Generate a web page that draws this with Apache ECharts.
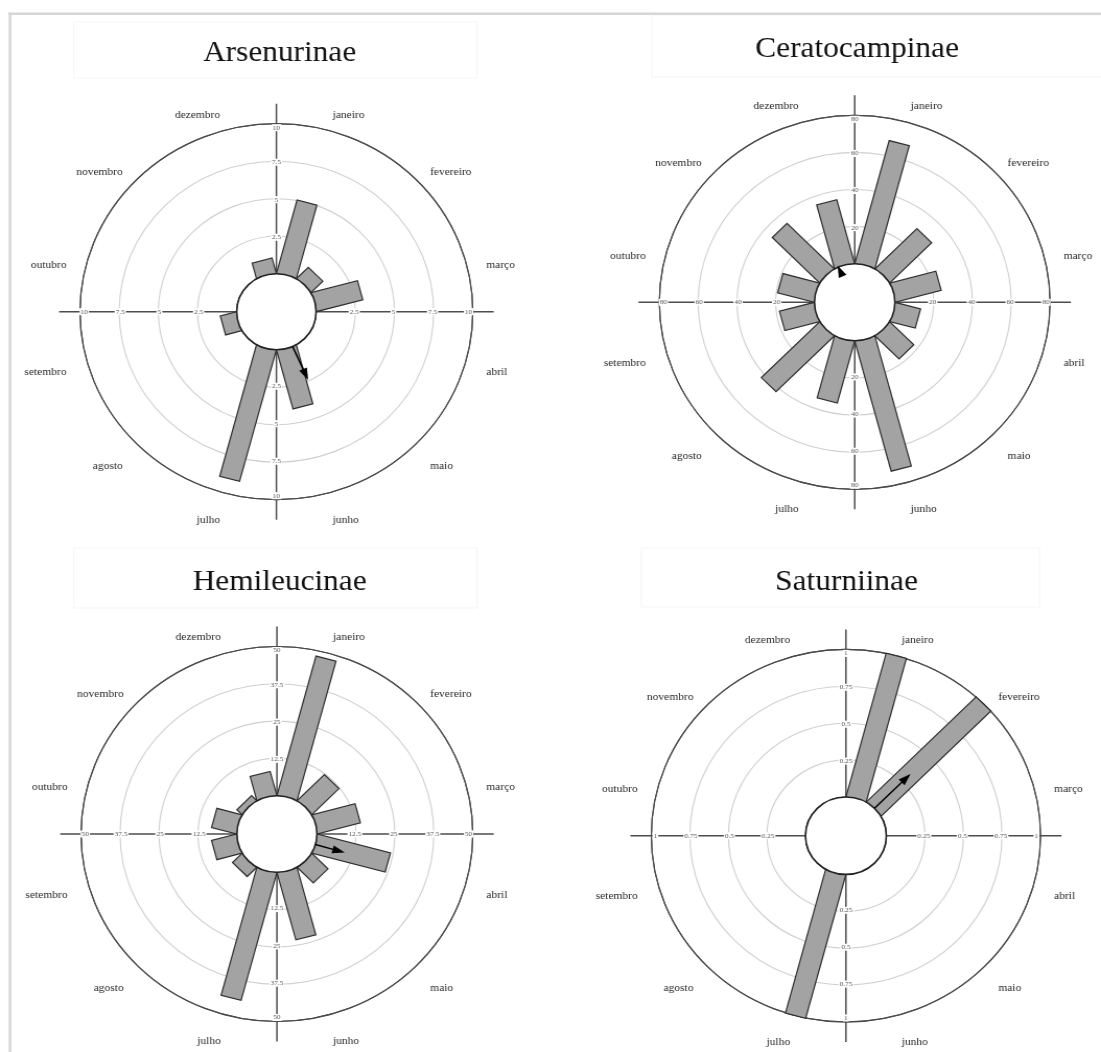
<!DOCTYPE html>
<html>
<head>
<meta charset="utf-8">
<title>Diagramas circulares - Saturniidae</title>
<script src="https://cdn.jsdelivr.net/npm/echarts@6/dist/echarts.min.js"></script>
<style>
    html, body { margin: 0; padding: 0; background: #fff; overflow: hidden; }
    #wrap { width: 1101px; height: 1052px; overflow: hidden; }
    /* a figura original esta esticada na horizontal */
    #main { width: 1054px; height: 1052px; transform: scaleX(1.0446); transform-origin: 0 0; }
</style>
</head>
<body>
<div id="wrap"><div id="main"></div></div>
<script>
// meses (eixo angular, sentido horario a partir do norte)
var months = ['janeiro', 'fevereiro', 'março', 'abril', 'maio', 'junho',
              'julho', 'agosto', 'setembro', 'outubro', 'novembro', 'dezembro'];

var titles = ['Arsenurinae', 'Ceratocampinae', 'Hemileucinae', 'Saturniinae'];

// frequencias mensais
var arsenurinae    = [5, 1, 3, 0, 0, 4, 9, 0, 1, 0, 0, 1];
var ceratocampinae = [68, 30, 24, 13, 17, 72, 34, 42, 18, 19, 34, 35];
var hemileucinae   = [48, 12, 14, 24, 7, 23, 44, 4, 8, 8, 2, 8];
var saturniinae    = [1, 1, 0, 0, 0, 0, 1, 0, 0, 0, 0, 0];

// marcas do eixo radial
var ticksArsenurinae    = [2.5, 5, 7.5, 10];
var ticksCeratocampinae = [20, 40, 60, 80];
var ticksHemileucinae   = [12.5, 25, 37.5, 50];
var ticksSaturniinae    = [0.25, 0.5, 0.75, 1];

// vetor medio (angulo em graus, comprimento em unidades do eixo)
var meanAngle  = [156, 336, 106, 45];
var meanLength = [2.45, 1, 9.8, 0.33];

var seriesData = [arsenurinae, ceratocampinae, hemileucinae, saturniinae];
var tickSets = [ticksArsenurinae, ticksCeratocampinae, ticksHemileucinae, ticksSaturniinae];

// layout de cada painel (px no grafico)
var panels = [
    { center: [264.6, 311.7], radius: [38, 188],   title: [262.7, 33] },
    { center: [818.2, 302.3], radius: [38.5, 187], title: [815.5, 29] },
    { center: [265.1, 834],   radius: [38.3, 187.5], title: [262.7, 562] },
    { center: [809.8, 835.7], radius: [38.7, 186.3], title: [805.4, 562] }
];

var SERIF = 'Liberation Serif, DejaVu Serif, serif';
var STEP = 360 / months.length;

var chart = echarts.init(document.getElementById('main'), null, { renderer: 'canvas' });

// barras retangulares a partir da borda do circulo central
function renderBar(params, api) {
    var v = api.value(0);
    if (!v) return null;
    var ang = api.value(1);
    var cs = params.coordSys;
    var p1 = api.coord([0, ang - STEP / 2]);
    var p2 = api.coord([0, ang + STEP / 2]);
    var tip = api.coord([v, ang]);
    var ux = tip[0] - cs.cx, uy = tip[1] - cs.cy;
    var len = Math.sqrt(ux * ux + uy * uy);
    ux /= len; uy /= len;
    var mx = (p1[0] + p2[0]) / 2, my = (p1[1] + p2[1]) / 2;
    var L = (tip[0] - mx) * ux + (tip[1] - my) * uy;
    return {
        type: 'polygon',
        shape: { points: [p1, p2, [p2[0] + ux * L, p2[1] + uy * L], [p1[0] + ux * L, p1[1] + uy * L]] },
        style: { fill: '#a3a3a3', stroke: '#2e2e2e', lineWidth: 1.2 }
    };
}

// eixos cruzados
function makeFrame(idx) {
    return function (params, api) {
        var cs = params.coordSys;
        var ext = cs.r + 20;
        var st = { stroke: '#4d4d4d', lineWidth: 1.5 };
        return {
            type: 'group',
            children: [
                { type: 'line', shape: { x1: cs.cx - ext, y1: cs.cy, x2: cs.cx + ext, y2: cs.cy }, style: st },
                { type: 'line', shape: { x1: cs.cx, y1: cs.cy - ext, x2: cs.cx, y2: cs.cy + ext }, style: st }
            ]
        };
    };
}

// circulo central, rotulos e vetor medio
function makeOverlay(idx) {
    return function (params, api) {
        var cs = params.coordSys;
        var ticks = tickSets[idx];
        var max = ticks[ticks.length - 1];
        var children = [];

        children.push({
            type: 'circle',
            shape: { cx: cs.cx, cy: cs.cy, r: cs.r0 },
            style: { fill: '#fff', stroke: '#222', lineWidth: 1.6 }
        });

        // rotulos do eixo radial nas 4 direcoes
        [0, 90, 180, 270].forEach(function (a) {
            ticks.forEach(function (t, k) {
                var p = api.coord([t, a]);
                var dx = p[0] - cs.cx, dy = p[1] - cs.cy;
                var d = Math.sqrt(dx * dx + dy * dy);
                var pull = k === ticks.length - 1 ? 4 : 1;
                children.push({
                    type: 'text',
                    style: {
                        text: String(t),
                        x: p[0] - dx / d * pull, y: p[1] - dy / d * pull,
                        align: 'center', verticalAlign: 'middle',
                        font: '7px ' + SERIF, fill: '#555',
                        backgroundColor: '#fff', padding: [0, 1]
                    }
                });
            });
        });

        // nomes dos meses
        months.forEach(function (m, k) {
            var a = STEP / 2 + STEP * k;
            var p = api.coord([max, a]);
            var dx = (p[0] - cs.cx) / cs.r, dy = (p[1] - cs.cy) / cs.r;
            var rr = cs.r + 20;
            children.push({
                type: 'text',
                style: {
                    text: m,
                    x: cs.cx + dx * rr, y: cs.cy + dy * rr + (dy < -0.9 ? 4 : 7),
                    align: a < 180 ? 'left' : 'right', verticalAlign: 'middle',
                    font: '11px ' + SERIF, fill: '#2a2a2a'
                }
            });
        });

        // vetor medio
        var s = api.coord([0, meanAngle[idx]]);
        var e = api.coord([meanLength[idx], meanAngle[idx]]);
        var ux = e[0] - cs.cx, uy = e[1] - cs.cy;
        var ul = Math.sqrt(ux * ux + uy * uy);
        ux /= ul; uy /= ul;
        var hl = 12, hw = 4;
        var bx = e[0] - ux * hl, by = e[1] - uy * hl;
        if ((e[0] - s[0]) * ux + (e[1] - s[1]) * uy > hl) {
            children.push({
                type: 'line',
                shape: { x1: s[0], y1: s[1], x2: bx + ux * 2, y2: by + uy * 2 },
                style: { stroke: '#000', lineWidth: 1.5 }
            });
        }
        children.push({
            type: 'polygon',
            shape: { points: [e, [bx - uy * hw, by + ux * hw], [bx + uy * hw, by - ux * hw]] },
            style: { fill: '#000' }
        });

        return { type: 'group', children: children };
    };
}

var polar = [], angleAxis = [], radiusAxis = [], series = [], title = [];

panels.forEach(function (p, i) {
    var ticks = tickSets[i];
    var max = ticks[ticks.length - 1];
    polar.push({ center: p.center, radius: p.radius });
    angleAxis.push({
        polarIndex: i, type: 'value', min: 0, max: 360, startAngle: 90, clockwise: true,
        axisLine: { show: true, lineStyle: { color: '#4a4a4a', width: 1.2 } },
        axisTick: { show: false }, axisLabel: { show: false }, splitLine: { show: false }
    });
    radiusAxis.push({
        polarIndex: i, type: 'value', min: 0, max: max, interval: ticks[0],
        axisLine: { show: false }, axisTick: { show: false }, axisLabel: { show: false },
        splitLine: { show: true, lineStyle: { color: ['#d0d0d0', '#d0d0d0', '#d0d0d0', '#d0d0d0', '#4a4a4a'], width: 1.1 } }
    });
    title.push({
        text: titles[i], left: p.title[0], top: p.title[1], textAlign: 'center',
        textStyle: { fontFamily: SERIF, fontSize: 30, fontWeight: 'normal', color: '#111' }
    });

    series.push({
        type: 'custom', coordinateSystem: 'polar', polarIndex: i, z: 1, silent: true,
        renderItem: makeFrame(i), data: [[0, 0]]
    });
    series.push({
        type: 'custom', name: titles[i], coordinateSystem: 'polar', polarIndex: i, z: 2,
        renderItem: renderBar,
        data: seriesData[i].map(function (v, k) { return [v, STEP / 2 + STEP * k]; })
    });
    series.push({
        type: 'custom', coordinateSystem: 'polar', polarIndex: i, z: 3, silent: true,
        renderItem: makeOverlay(i), data: [[0, 0]]
    });
});

// caixas dos titulos, quase invisiveis
var faint = { fill: 'none', stroke: '#f5f5f5', lineWidth: 1 };

chart.setOption({
    animation: false,
    backgroundColor: '#fff',
    title: title,
    polar: polar,
    angleAxis: angleAxis,
    radiusAxis: radiusAxis,
    series: series,
    graphic: [
        { type: 'rect', shape: { x: 70.6, y: 22, width: 386, height: 56 }, style: faint, z: -1 },
        { type: 'rect', shape: { x: 624, y: 15, width: 440, height: 62 }, style: faint, z: -1 },
        { type: 'rect', shape: { x: 70.6, y: 548, width: 386, height: 60 }, style: faint, z: -1 },
        { type: 'rect', shape: { x: 614, y: 548, width: 381, height: 59 }, style: faint, z: -1 },
        { type: 'line', shape: { x1: 8, y1: 13.8, x2: 1060, y2: 13.8 }, style: { stroke: '#d6d6d6', lineWidth: 2.5 }, z: 10 },
        { type: 'line', shape: { x1: 9.6, y1: 12.5, x2: 9.6, y2: 1060 }, style: { stroke: '#d6d6d6', lineWidth: 2.5 }, z: 10 }
    ]
});

window.addEventListener('resize', function () {
    chart.resize();
});
</script>
</body>
</html>
